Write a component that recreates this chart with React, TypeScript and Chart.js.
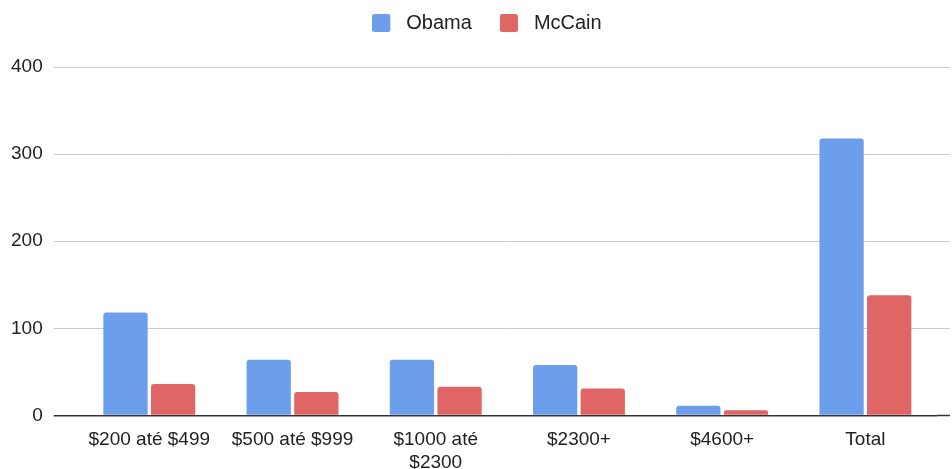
import React, { useEffect, useRef } from "react";
import { Chart, registerables } from "chart.js";

Chart.register(...registerables);

const categories: (string | string[])[] = [
  "$200 até $499",
  "$500 até $999",
  ["$1000 até", "$2300"],
  "$2300+",
  "$4600+",
  "Total",
];
const obamaValues = [118, 64, 64, 58, 11, 318];
const mccainValues = [36, 27, 33, 31, 6, 138];
const seriesNames = ["Obama", "McCain"];
const seriesColors = ["#6d9eeb", "#e06666"];
const yTicks = [0, 100, 200, 300, 400];

const FONT = "'Liberation Sans', Arial, sans-serif";

function makeMarker(color: string) {
  const c = document.createElement("canvas");
  c.width = 24;
  c.height = 18;
  const g = c.getContext("2d")!;
  g.fillStyle = color;
  g.beginPath();
  if ((g as any).roundRect) (g as any).roundRect(0, 0, 18, 18, 2);
  else g.rect(0, 0, 18, 18);
  g.fill();
  return c;
}

const legendSpacer = {
  id: "legendSpacer",
  beforeInit(chart: any) {
    const orig = chart.legend.fit;
    chart.legend.fit = function () {
      orig.call(this);
      this.height += 24;
    };
  },
  afterLayout(chart: any) {
    if (chart.legend) {
      chart.legend.left += 12;
      chart.legend.right += 12;
    }
  },
};

export default function App() {
  const ref = useRef<HTMLCanvasElement | null>(null);

  useEffect(() => {
    document.body.style.margin = "0";
    if (!ref.current) return;
    const gridColor = (ctx: any) => (ctx.tick && ctx.tick.value === 0 ? "#333333" : "#cccccc");
    const gridWidth = (ctx: any) => (ctx.tick && ctx.tick.value === 0 ? 1.5 : 1);
    const markers = seriesColors.map(makeMarker);
    const chart = new Chart(ref.current, {
      type: "bar",
      data: {
        labels: categories,
        datasets: [obamaValues, mccainValues].map((vals, i) => ({
          label: seriesNames[i],
          data: vals,
          backgroundColor: seriesColors[i],
          borderRadius: 3,
          borderSkipped: "bottom",
          categoryPercentage: 0.665,
          barPercentage: 0.93,
          pointStyle: markers[i],
        })),
      },
      plugins: [legendSpacer],
      options: {
        animation: false,
        responsive: false,
        maintainAspectRatio: false,
        layout: { padding: { top: -15, left: 0, right: 2, bottom: -10 } },
        plugins: {
          legend: {
            position: "top",
            labels: {
              usePointStyle: true,
              pointStyleWidth: 24,
              boxHeight: 18,
              padding: 28,
              color: "#222222",
              font: { family: FONT, size: 20 },
            },
          },
          tooltip: { enabled: false },
        },
        scales: {
          x: {
            grid: { display: false },
            border: { display: false },
            ticks: {
              color: "#222222",
              font: { family: FONT, size: 19 },
              padding: 5,
              maxRotation: 0,
              autoSkip: false,
            },
          },
          y: {
            min: 0,
            max: 400,
            afterBuildTicks: (axis: any) => {
              axis.ticks = yTicks.map((v) => ({ value: v }));
            },
            grid: {
              color: gridColor,
              lineWidth: gridWidth,
              tickLength: 24,
              tickColor: gridColor,
              tickWidth: gridWidth,
            },
            border: { display: false },
            ticks: {
              color: "#222222",
              font: { family: FONT, size: 19 },
              padding: 11,
            },
          },
          y2: {
            position: "right",
            min: 0,
            max: 400,
            afterBuildTicks: (axis: any) => {
              axis.ticks = yTicks.map((v) => ({ value: v }));
            },
            grid: {
              drawOnChartArea: false,
              tickLength: 13,
              tickColor: gridColor,
              tickWidth: gridWidth,
            },
            border: { display: false },
            ticks: { display: false },
          },
        },
      },
    });
    return () => chart.destroy();
  }, []);

  return (
    <div style={{ width: 952, height: 469, position: "relative" }}>
      <canvas ref={ref} width={952} height={469} style={{ display: "block" }} />
    </div>
  );
}
